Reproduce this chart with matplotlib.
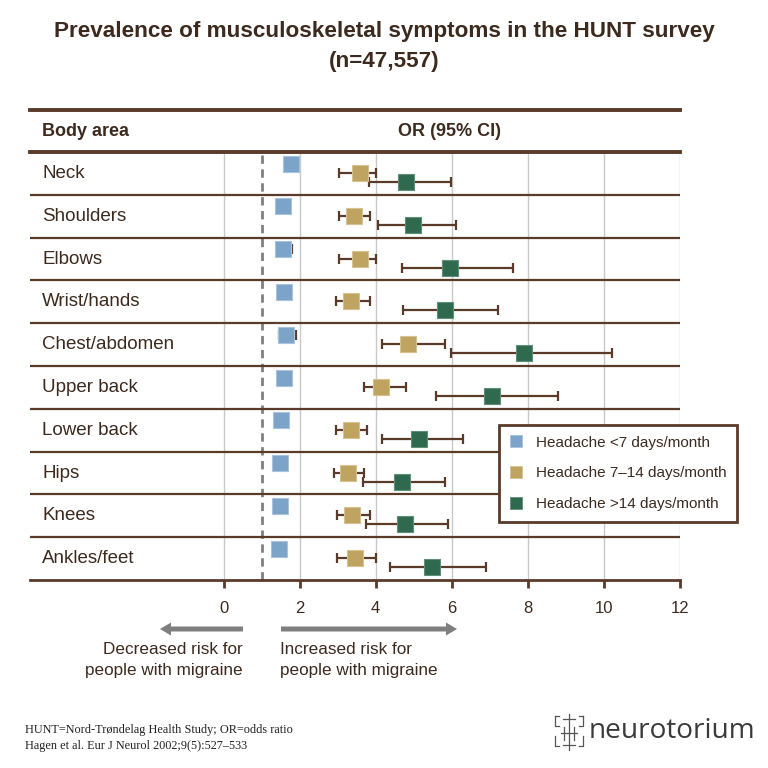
import matplotlib
matplotlib.use("Agg")
import matplotlib.pyplot as plt
from matplotlib.lines import Line2D
from matplotlib.patches import FancyArrow
import numpy as np

# ---------------- data ----------------
categories = ["Neck", "Shoulders", "Elbows", "Wrist/hands", "Chest/abdomen",
              "Upper back", "Lower back", "Hips", "Knees", "Ankles/feet"]
or_low = [1.77, 1.56, 1.56, 1.59, 1.63, 1.59, 1.51, 1.49, 1.49, 1.47]
low_lo = [1.65, 1.45, 1.40, 1.48, 1.45, 1.48, 1.40, 1.38, 1.38, 1.36]
low_hi = [1.89, 1.68, 1.81, 1.70, 1.90, 1.70, 1.62, 1.60, 1.60, 1.58]
or_mid = [3.60, 3.44, 3.58, 3.36, 4.86, 4.14, 3.36, 3.28, 3.39, 3.45]
mid_lo = [3.04, 3.04, 3.04, 2.95, 4.16, 3.70, 2.97, 2.91, 2.98, 2.98]
mid_hi = [4.00, 3.85, 4.00, 3.84, 5.81, 4.80, 3.77, 3.69, 3.84, 4.02]
or_high = [4.79, 4.97, 5.95, 5.83, 7.89, 7.05, 5.15, 4.68, 4.77, 5.47]
high_lo = [3.83, 4.05, 4.68, 4.72, 5.98, 5.58, 4.17, 3.66, 3.75, 4.38]
high_hi = [5.98, 6.12, 7.60, 7.22, 10.2, 8.79, 6.30, 5.82, 5.90, 6.91]
series_labels = ["Headache <7 days/month", "Headache 7\u201314 days/month",
                 "Headache >14 days/month"]
xticks = [0, 2, 4, 6, 8, 10, 12]

# ---------------- style ----------------
TXT = "#3d2a1e"
LINE = "#5a3b2a"
GRID = "#c9c9c9"
COLS = ["#7ca3c8", "#bfa361", "#2f6a4f"]
EDGES = ["#a9c3dc", "#d6c290", "#5f8f78"]
plt.rcParams['font.family'] = ['Liberation Sans', 'DejaVu Sans']

W = H = 768
fig = plt.figure(figsize=(7.68, 7.68), dpi=100)

def fx(px):
    return px / W

def fy(py):
    return 1 - py / H

ax = fig.add_axes([fx(30), fy(580), fx(680) - fx(30), fy(152) - fy(580)])
ax.set_xlim(-5.087, 12)
ax.set_ylim(10, 0)
for s in ["left", "right", "top"]:
    ax.spines[s].set_visible(False)
ax.spines["bottom"].set_color(LINE)
ax.spines["bottom"].set_linewidth(2)
ax.set_yticks([])
ax.set_xticks(xticks)
ax.set_xticklabels([str(t) for t in xticks], fontsize=12, color=TXT)
ax.tick_params(axis="x", direction="out", length=6, width=2, color=LINE, pad=9)

# grid lines
for t in xticks:
    ax.axvline(t, color=GRID, lw=1, zorder=0)
ax.axvline(1, color="#808080", lw=2, ls=(0, (3, 2)), zorder=1)
# row lines
for i in range(1, 10):
    ax.axhline(i, color=LINE, lw=1.6, zorder=1)
ax.axhline(0, color=LINE, lw=2.8, zorder=1, clip_on=False)

n = len(categories)
rows = np.arange(n)
offsets = [0.27, 0.49, 0.70]
series = [(or_low, low_lo, low_hi), (or_mid, mid_lo, mid_hi), (or_high, high_lo, high_hi)]
handles = []
for k, (vals, lo, hi) in enumerate(series):
    vals = np.array(vals)
    lo = np.array(lo)
    hi = np.array(hi)
    y = rows + offsets[k]
    ax.errorbar(vals, y, xerr=[vals - lo, hi - vals], fmt="none",
                ecolor=LINE, elinewidth=1.6, capsize=3.5, capthick=1.6, zorder=3)
    ax.plot(vals, y, "s", ms=11, color=COLS[k], mec=EDGES[k], mew=0.8, zorder=4)
    handles.append(Line2D([], [], marker="s", ls="none", ms=8, color=COLS[k],
                          mec=EDGES[k], mew=0.6))

for i, c in enumerate(categories):
    ax.text(fx(42 - 30) / (fx(680) - fx(30)), i + 0.5, c, transform=ax.get_yaxis_transform(),
            fontsize=13.5, color=TXT, va="center", ha="left")

leg = ax.legend(handles, series_labels, loc="upper left",
                bbox_to_anchor=(fx(499), fy(425)), bbox_transform=fig.transFigure,
                frameon=True, fancybox=False, framealpha=1, edgecolor=LINE,
                fontsize=11, labelcolor=TXT, handlelength=0.8, handletextpad=0.9,
                labelspacing=1.1, borderpad=0.7, borderaxespad=0)
leg.get_frame().set_linewidth(2)
leg.set_zorder(10)

# header
fig.add_artist(Line2D([fx(30), fx(680)], [fy(110), fy(110)], color=LINE, lw=2.8))
fig.text(fx(42), fy(132), "Body area", fontsize=13, fontweight="bold", color=TXT,
         va="center", ha="left")
fig.text(fx(450), fy(132), "OR (95% CI)", fontsize=13, fontweight="bold", color=TXT,
         va="center", ha="center")

# title
fig.text(fx(384), fy(31), "Prevalence of musculoskeletal symptoms in the HUNT survey",
         fontsize=16.2, fontweight="bold", color=TXT, ha="center", va="center")
fig.text(fx(384), fy(62), "(n=47,557)", fontsize=16.2, fontweight="bold", color=TXT,
         ha="center", va="center")

# arrows
ay = fy(629)
fig.add_artist(FancyArrow(fx(243), ay, fx(160) - fx(243), 0, width=5 / W,
                          head_width=13 / W, head_length=11 / W, length_includes_head=True,
                          transform=fig.transFigure, color="#7f7f7f", lw=0))
fig.add_artist(FancyArrow(fx(281), ay, fx(457) - fx(281), 0, width=5 / W,
                          head_width=13 / W, head_length=11 / W, length_includes_head=True,
                          transform=fig.transFigure, color="#7f7f7f", lw=0))
fig.text(fx(243), fy(649), "Decreased risk for", fontsize=12.3, color=TXT,
         ha="right", va="center")
fig.text(fx(243), fy(670), "people with migraine", fontsize=12.3, color=TXT,
         ha="right", va="center")
fig.text(fx(280), fy(649), "Increased risk for", fontsize=12.3, color=TXT,
         ha="left", va="center")
fig.text(fx(280), fy(670), "people with migraine", fontsize=12.3, color=TXT,
         ha="left", va="center")

# footer
fig.text(fx(25), fy(730), "HUNT=Nord-Tr\u00f8ndelag Health Study; OR=odds ratio",
         fontsize=8.8, family="Liberation Serif", color="#222222", ha="left", va="center")
fig.text(fx(25), fy(746), "Hagen et al. Eur J Neurol 2002;9(5):527\u2013533",
         fontsize=8.8, family="Liberation Serif", color="#222222", ha="left", va="center")

# logo
fig.text(fx(589), fy(731), "neurotorium", fontsize=20.2, family="Open Sans",
         color="#3a3a3a", ha="left", va="center")
lc = "#555555"
cx = 569
segs = [
    ([cx, cx], [714, 750]),
    ([cx - 6, cx + 6], [719, 719]),
    ([cx - 8, cx + 8], [733, 733]),
    ([cx - 6, cx + 6], [745, 745]),
    ([cx - 14, cx - 14, cx - 10], [716, 726, 726]),
    ([cx - 14, cx - 10], [716, 716]),
    ([cx + 14, cx + 14, cx + 10], [716, 726, 726]),
    ([cx + 14, cx + 10], [716, 716]),
    ([cx - 14, cx - 14, cx - 10], [736, 746, 746]),
    ([cx + 14, cx + 14, cx + 10], [736, 746, 746]),
    ([cx - 5, cx - 5], [727, 740]),
    ([cx + 5, cx + 5], [727, 740]),
]
for xs, ys in segs:
    fig.add_artist(Line2D([fx(v) for v in xs], [fy(v) for v in ys], color=lc, lw=0.9))

fig.savefig("out.png", dpi=100, facecolor="white")
